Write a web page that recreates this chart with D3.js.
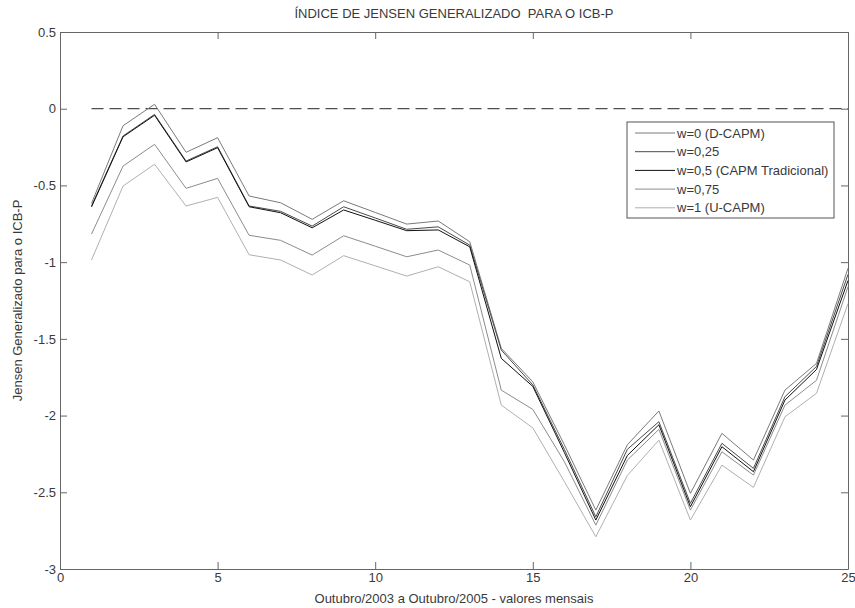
<!DOCTYPE html>
<html>
<head>
<meta charset="utf-8">
<script src="https://cdn.jsdelivr.net/npm/d3@7"></script>
<style>
  body { margin: 0; background: #fff; }
  text { font-family: "Liberation Sans", Arial, sans-serif; fill: #3a3a3a; }
</style>
</head>
<body>
<div id="chart"></div>
<script>
var meses = d3.range(1, 26);

var w0 = [-0.617, -0.111, 0.029, -0.284, -0.189, -0.569, -0.613, -0.721, -0.600, -0.676, -0.752, -0.732, -0.867,
  -1.562, -1.78, -2.19, -2.616, -2.19, -1.97, -2.507, -2.116, -2.29, -1.834, -1.66, -1.04];
var w025 = [-0.634, -0.178, -0.037, -0.341, -0.248, -0.634, -0.669, -0.765, -0.639, -0.712, -0.786, -0.77, -0.889,
  -1.573, -1.80, -2.22, -2.660, -2.22, -2.04, -2.572, -2.181, -2.344, -1.877, -1.68, -1.08];
var w05 = [-0.640, -0.183, -0.043, -0.347, -0.254, -0.639, -0.678, -0.776, -0.660, -0.727, -0.795, -0.79, -0.900,
  -1.627, -1.81, -2.24, -2.681, -2.26, -2.06, -2.594, -2.203, -2.366, -1.899, -1.70, -1.12];
var w075 = [-0.817, -0.374, -0.232, -0.519, -0.454, -0.825, -0.858, -0.954, -0.828, -0.896, -0.965, -0.921, -1.019,
  -1.834, -1.96, -2.30, -2.714, -2.29, -2.09, -2.616, -2.236, -2.388, -1.932, -1.77, -1.16];
var w1 = [-0.986, -0.504, -0.362, -0.634, -0.578, -0.952, -0.986, -1.084, -0.958, -1.024, -1.091, -1.03, -1.128,
  -1.932, -2.08, -2.43, -2.790, -2.39, -2.16, -2.681, -2.323, -2.468, -2.008, -1.855, -1.27];

var nomes = ['w=0 (D-CAPM)', 'w=0,25', 'w=0,5 (CAPM Tradicional)', 'w=0,75', 'w=1 (U-CAPM)'];
var cores = ['#7a7a7a', '#4a4a4a', '#111111', '#8c8c8c', '#b0b0b0'];
var xTicks = [0, 5, 10, 15, 20, 25];
var yTicks = [0.5, 0, -0.5, -1, -1.5, -2, -2.5, -3];

var series = [w0, w025, w05, w075, w1];

var width = 855, height = 608;
var margin = {left: 60, right: 7, top: 32, bottom: 39};
var iw = width - margin.left - margin.right,
    ih = height - margin.top - margin.bottom;

var svg = d3.select('#chart').append('svg')
  .attr('width', width)
  .attr('height', height);

var g = svg.append('g')
  .attr('transform', 'translate(' + margin.left + ',' + margin.top + ')');

var x = d3.scaleLinear().domain([0, 25]).range([0, iw]);
var y = d3.scaleLinear().domain([-3, 0.5]).range([ih, 0]);

// eixos (ticks para dentro, nos quatro lados)
function styleAxis(sel) {
  sel.select('.domain').attr('stroke', '#666');
  sel.selectAll('.tick line').attr('stroke', '#666');
  sel.selectAll('.tick text').style('font-size', '13px').attr('fill', '#444');
}

g.append('g')
  .attr('transform', 'translate(0,' + ih + ')')
  .call(d3.axisBottom(x).tickValues(xTicks).tickSizeInner(-7).tickSizeOuter(0).tickPadding(4))
  .call(styleAxis);

g.append('g')
  .call(d3.axisTop(x).tickValues(xTicks).tickSizeInner(-7).tickSizeOuter(0).tickFormat(''))
  .call(styleAxis);

g.append('g')
  .call(d3.axisLeft(y).tickValues(yTicks).tickSizeInner(-7).tickSizeOuter(0).tickPadding(4)
    .tickFormat(function(d) { return String(d); }))
  .call(styleAxis);

g.append('g')
  .attr('transform', 'translate(' + iw + ',0)')
  .call(d3.axisRight(y).tickValues(yTicks).tickSizeInner(-7).tickSizeOuter(0).tickFormat(''))
  .call(styleAxis);

g.selectAll('.tick text').attr('font-family', null);

// linha de referencia em zero
g.append('line')
  .attr('x1', x(1)).attr('x2', x(25))
  .attr('y1', y(0)).attr('y2', y(0))
  .attr('stroke', '#222')
  .attr('stroke-dasharray', '12,6');

var line = d3.line()
  .x(function(d, i) { return x(meses[i]); })
  .y(function(d) { return y(d); });

g.selectAll('.serie')
  .data(series)
  .enter()
  .append('path')
  .attr('class', 'serie')
  .attr('d', line)
  .attr('fill', 'none')
  .attr('stroke', function(d, i) { return cores[i]; })
  .attr('stroke-width', 1);

// legenda
var leg = svg.append('g').attr('transform', 'translate(627,122)');
leg.append('rect')
  .attr('width', 207).attr('height', 96)
  .attr('fill', '#fff').attr('stroke', '#555');

var item = leg.selectAll('.item')
  .data(nomes)
  .enter()
  .append('g')
  .attr('transform', function(d, i) { return 'translate(0,' + (11 + i * 18.7) + ')'; });

item.append('line')
  .attr('x1', 8).attr('x2', 48)
  .attr('stroke', function(d, i) { return cores[i]; });

item.append('text')
  .attr('x', 50).attr('dy', '0.35em')
  .style('font-size', '13px')
  .text(function(d) { return d; });

// titulos
svg.append('text')
  .attr('x', margin.left + iw / 2).attr('y', 18)
  .attr('text-anchor', 'middle')
  .style('font-size', '13px')
  .style('white-space', 'pre')
  .text('ÍNDICE DE JENSEN GENERALIZADO  PARA O ICB-P');

svg.append('text')
  .attr('x', margin.left + iw / 2).attr('y', 603)
  .attr('text-anchor', 'middle')
  .style('font-size', '13px')
  .text('Outubro/2003 a Outubro/2005 - valores mensais');

svg.append('text')
  .attr('transform', 'translate(22,' + (margin.top + ih / 2) + ') rotate(-90)')
  .attr('text-anchor', 'middle')
  .style('font-size', '13px')
  .text('Jensen Generalizado para o ICB-P');
</script>
</body>
</html>
